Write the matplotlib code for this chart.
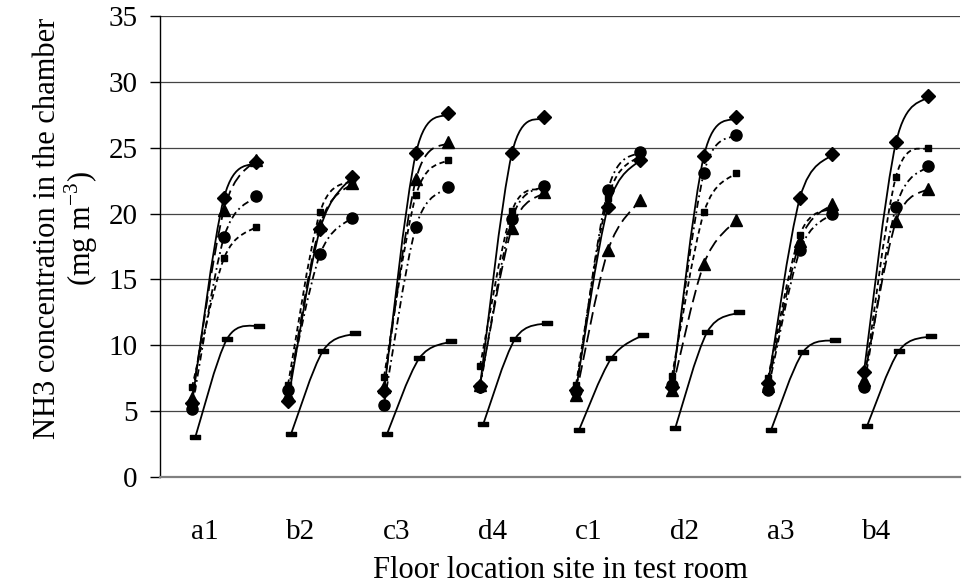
import numpy as np
import matplotlib.pyplot as plt
from matplotlib.path import Path
from matplotlib.patches import PathPatch

plt.rcParams['font.family'] = ['Liberation Serif', 'DejaVu Serif']
plt.rcParams['mathtext.fontset'] = 'custom'
plt.rcParams['mathtext.rm'] = 'Liberation Serif'

# DATA: three readings per site (start, middle, end)
sites = ['a1', 'b2', 'c3', 'd4', 'c1', 'd2', 'a3', 'b4']

diamond = [5.6, 21.2, 23.9,   5.8, 18.8, 22.8,   6.5, 24.6, 27.6,   6.9, 24.6, 27.3,
           6.6, 20.5, 24.1,   6.8, 24.4, 27.3,   7.1, 21.2, 24.5,   8.0, 25.4, 28.9]
square = [6.8, 16.6, 19.0,   7.0, 20.1, 22.5,   7.6, 21.4, 24.1,   8.4, 20.2, 21.9,
          7.0, 21.2, 24.4,   7.7, 20.1, 23.1,   7.5, 18.4, 20.4,   7.1, 22.8, 25.0]
circle = [5.2, 18.2, 21.3,   6.6, 16.9, 19.7,   5.5, 19.0, 22.0,   6.8, 19.6, 22.1,
          6.5, 21.8, 24.7,   7.0, 23.1, 26.0,   6.6, 17.2, 20.0,   6.8, 20.5, 23.6]
triangle = [6.0, 20.3, 24.1,   6.2, 19.1, 22.3,   6.8, 22.6, 25.4,   7.0, 18.9, 21.6,
            6.2, 17.2, 21.0,   6.6, 16.2, 19.5,   6.9, 17.9, 20.7,   7.4, 19.4, 21.9]
dash = [3.0, 10.5, 11.5,   3.3, 9.6, 10.9,   3.3, 9.0, 10.3,   4.0, 10.5, 11.7,
        3.6, 9.0, 10.8,   3.7, 11.0, 12.5,   3.6, 9.5, 10.4,   3.9, 9.6, 10.7]

y_ticks = [0, 5, 10, 15, 20, 25, 30, 35]


# smoothed line through the points (Excel-like Catmull-Rom Bezier)
def smooth_path(xs, ys):
    p = np.column_stack([xs, ys]).astype(float)
    n = len(p)
    verts = [p[0]]
    codes = [Path.MOVETO]
    for i in range(n - 1):
        p0 = p[max(i - 1, 0)]
        p1 = p[i]
        p2 = p[i + 1]
        p3 = p[min(i + 2, n - 1)]
        verts += [p1 + (p2 - p0) / 6, p2 - (p3 - p1) / 6, p2]
        codes += [Path.CURVE4] * 3
    return Path(verts, codes)


fig = plt.figure(figsize=(9.64, 5.87), dpi=100)
ax = fig.add_axes([160 / 964, 1 - 477 / 587, 800 / 964, (477 - 16) / 587])

dash_marker = [(-1, -0.45), (1, -0.45), (1, 0.45), (-1, 0.45), (-1, -0.45)]
series = [
    (dash, '-', dash_marker, 6.5, 0.1),
    (square, (0, (3, 2)), 's', 5, 0.0),
    (circle, (0, (4, 2, 1, 2)), 'o', 8, 0.0),
    (triangle, (0, (7, 3)), '^', 8.5, 0.0),
    (diamond, '-', 'D', 7, 0.0),
]

for values, ls, marker, ms, shift in series:
    for g in range(len(sites)):
        xs = np.arange(3) + 3 * g + shift
        ys = values[3 * g:3 * g + 3]
        ax.add_patch(PathPatch(smooth_path(xs, ys), facecolor='none', edgecolor='black',
                               lw=1.3, linestyle=ls, zorder=3))
        ax.plot(xs, ys, linestyle='none', marker=marker, ms=ms, color='black', zorder=4)

ax.set_xlim(-1, 24)
ax.set_ylim(0, 35)
ax.set_yticks(y_ticks)
ax.set_xticks([3 * g + 0.4 for g in range(len(sites))])
ax.set_xticklabels(sites)
ax.tick_params(axis='x', length=0, pad=30, labelsize=21)
ax.tick_params(axis='y', direction='out', length=7, width=1, pad=9, labelsize=21)
ax.grid(axis='y', color='#444444', lw=0.9)
ax.set_axisbelow(True)

for s in ['top', 'right']:
    ax.spines[s].set_visible(False)
ax.spines['bottom'].set_color('#808080')
ax.spines['bottom'].set_linewidth(1.6)
ax.spines['left'].set_linewidth(1)

ax.set_xlabel('Floor location site in test room', fontsize=22, labelpad=8)
ax.set_ylabel('NH3 concentration in the chamber\n(mg m$^{-3}$)', fontsize=22,
              linespacing=1.0)
ax.yaxis.set_label_coords(-0.075, 0.54)

fig.savefig('out.png', dpi=100)
